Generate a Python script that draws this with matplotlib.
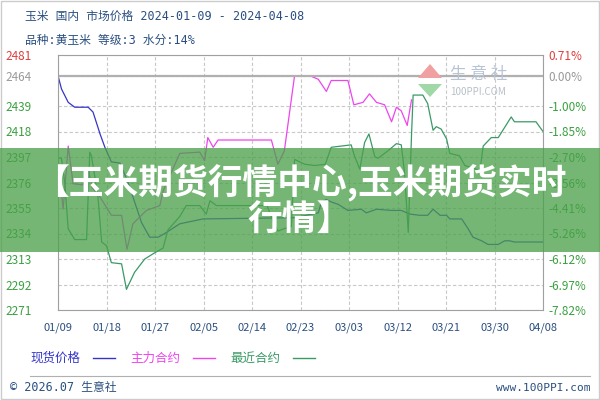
import matplotlib
matplotlib.use("Agg")
import matplotlib.pyplot as plt
import matplotlib.dates as mdates
from matplotlib.patches import Rectangle, Polygon
import pandas as pd

plt.rcParams['font.family'] = ['Noto Sans CJK SC', 'DejaVu Sans']

START = pd.Timestamp('2024-01-09')

# 现货价格 (spot price), days after 01/09
spot_days = [0, 0.65, 1.9, 3.1, 5.6, 6.5, 7.8, 8.7, 9.9, 11.5,
             13, 15.5, 17, 18.6, 19.8, 22.6, 26.9, 43.9, 48.3, 48.9,
             49.8, 50.7, 52, 53.8, 56.3, 57.2, 59.1, 61.9, 63.7, 65.3,
             67.1, 68.6, 69.6, 70.9, 72.1, 72.7, 74.9, 76.1, 77, 78.6,
             79.8, 81.7, 82.9, 83.8, 84.7, 90]
spot = [2464, 2453, 2442, 2438, 2438, 2434, 2416, 2405, 2393, 2392,
        2376, 2343, 2331, 2331, 2334, 2342, 2346, 2347, 2351, 2360,
        2362, 2360, 2358, 2353, 2354, 2351, 2354, 2353, 2353, 2350,
        2349, 2349, 2354, 2349, 2349, 2346, 2346, 2338, 2331, 2328,
        2325, 2325, 2328, 2328, 2327, 2327]

# 主力合约 (main contract)
main_days = [0, 0.95, 1.9, 2.8, 4.7, 5.6, 6.3, 7.8, 9.9, 11.8,
             12.8, 13.9, 16.4, 18.9, 19.5, 22.6, 26.3, 27.2, 27.8, 28.8,
             29.7, 39.6, 40.8, 42, 43.9, 46.7, 48.3, 49.8, 50.7, 53.8,
             54.9, 56.6, 57.8, 59.1, 60.6, 61.9, 62.8, 63.7, 64.8, 65.6]
main = [2396, 2354, 2406, 2375, 2374, 2388, 2372, 2364, 2349, 2349,
        2321, 2342, 2353, 2357, 2369, 2400, 2401, 2394, 2413, 2405,
        2411, 2411, 2391, 2402, 2464, 2464, 2461, 2451, 2460, 2460,
        2440, 2442, 2449, 2442, 2440, 2426, 2438, 2435, 2423, 2444]

# 最近合约 (nearest contract)
near_days = [0, 0.64, 1.26, 1.88, 3.1, 5.3, 5.9, 6.2, 7.4, 8.1,
             9.0, 9.9, 11.8, 12.7, 14.2, 16.1, 17.9, 19.5, 20.4, 22.6,
             23.8, 26.3, 27.5, 28.2, 29.4, 38.8, 40, 40.8, 42, 43.3,
             43.9, 45.8, 47.7, 49.6, 50.7, 54.4, 55, 56, 56.9, 57.7,
             58.8, 59.4, 61.2, 62.8, 63.7, 64.3, 65, 65.6, 65.9, 67.7,
             68.6, 69.6, 70.2, 71.1, 72.1, 72.7, 74.5, 75.5, 78.3, 78.9,
             80.4, 81.7, 84.1, 84.7, 88.7, 90]
near = [2396, 2396, 2376, 2338, 2329, 2329, 2401, 2398, 2365, 2327,
        2324, 2310, 2309, 2288, 2302, 2313, 2318, 2322, 2337, 2348,
        2357, 2357, 2350, 2361, 2357, 2357, 2343, 2336, 2338, 2340,
        2395, 2391, 2390, 2391, 2405, 2407, 2398, 2387, 2409, 2416,
        2397, 2396, 2402, 2408, 2407, 2384, 2335, 2415, 2448, 2448,
        2441, 2419, 2422, 2420, 2412, 2400, 2398, 2390, 2386, 2406,
        2413, 2413, 2430, 2426, 2426, 2418]

y_ticks = [2481, 2464, 2439, 2418, 2397, 2376, 2355, 2334, 2313, 2292, 2271]
pct_labels = ['0.71%', '0.00%', '-1.00%', '-1.85%', '-2.70%', '-3.56%',
              '-4.41%', '-5.26%', '-6.12%', '-6.97%', '-7.82%']
base_price = 2464

BLUE = '#3535c8'
MAGENTA = '#ee44ee'
GREEN = '#3a9a66'
NAVY = '#2a4f80'
MONO = ['DejaVu Sans Mono', 'Noto Sans CJK SC']


def to_dates(days):
    return START + pd.to_timedelta(days, unit='D')


def tick_color(v):
    if v > base_price:
        return '#e03c3c'
    if v == base_price:
        return '#999999'
    return '#3aa040'


fig = plt.figure(figsize=(6, 4), dpi=100)
fig.add_artist(Rectangle((0.002, 0.002), 0.996, 0.996, transform=fig.transFigure,
                         fill=False, edgecolor='#cccccc', lw=1))

ax = fig.add_axes([58 / 600, 1 - 310 / 400, 485 / 600, 255 / 400])
ax.plot(to_dates(spot_days), spot, color=BLUE, lw=0.9)
ax.plot(to_dates(main_days), main, color=MAGENTA, lw=0.9)
ax.plot(to_dates(near_days), near, color=GREEN, lw=0.9)

ax.set_ylim(y_ticks[-1], y_ticks[0])
ax.set_xlim(START, START + pd.Timedelta(days=90))
ax.set_yticks(y_ticks)
ax.set_xticks(pd.date_range(START, periods=11, freq='9D'))
ax.xaxis.set_major_formatter(mdates.DateFormatter('%m/%d'))
ax.grid(True, color='#c8c8c8', ls=(0, (3, 2)), lw=0.8)
ax.axhline(base_price, color='#b0b0b0', lw=1.6)
for s in ax.spines.values():
    s.set_color('#a0a0a0')

ax.tick_params(axis='x', length=0, pad=9, labelsize=8, labelcolor=NAVY)
ax.tick_params(axis='y', length=0, pad=38, labelsize=8.5)
for lab, v in zip(ax.get_yticklabels(), y_ticks):
    lab.set_ha('left')
    lab.set_color(tick_color(v))

ax2 = ax.twinx()
ax2.set_ylim(ax.get_ylim())
ax2.set_yticks(y_ticks)
ax2.set_yticklabels(pct_labels)
ax2.tick_params(axis='y', length=0, pad=4, labelsize=8.5)
for lab, v in zip(ax2.get_yticklabels(), y_ticks):
    lab.set_color(tick_color(v))
for s in ax2.spines.values():
    s.set_visible(False)

# header
fig.text(25 / 600, 1 - 16 / 400, '玉米 国内 市场价格 2024-01-09 - 2024-04-08',
         fontsize=8.5, color=NAVY, va='center', family=MONO)
fig.text(25 / 600, 1 - 40 / 400, '品种:黄玉米 等级:3 水分:14%',
         fontsize=8.5, color=NAVY, va='center', family=MONO)

# watermark
fig.add_artist(Polygon([[418 / 600, 1 - 78 / 400], [430 / 600, 1 - 64 / 400], [442 / 600, 1 - 78 / 400]],
                       closed=True, transform=fig.transFigure, color='#f0a0a0', lw=0))
fig.add_artist(Polygon([[418 / 600, 1 - 84 / 400], [430 / 600, 1 - 97 / 400], [442 / 600, 1 - 84 / 400]],
                       closed=True, transform=fig.transFigure, color='#a0d8a8', lw=0))
fig.text(450 / 600, 1 - 74 / 400, '生 意 社', fontsize=12, color='#b8c4d4', va='center')
fig.text(450 / 600, 1 - 92 / 400, '100PPI.COM', fontsize=7, color='#b8c0c8', va='center')

# legend row
legend_items = [('现货价格', BLUE, 30), ('主力合约', MAGENTA, 130), ('最近合约', GREEN, 230)]
for name, c, x0 in legend_items:
    fig.text(x0 / 600, 1 - 358 / 400, name, fontsize=9, color=c, va='center')
    fig.add_artist(plt.Line2D([(x0 + 63) / 600, (x0 + 85) / 600], [1 - 358 / 400, 1 - 358 / 400],
                              transform=fig.transFigure, color=c, lw=1))

fig.add_artist(plt.Line2D([30 / 600, 590 / 600], [1 - 376 / 400, 1 - 376 / 400],
                          transform=fig.transFigure, color='#b0b0b0', lw=0.8))
fig.text(10 / 600, 1 - 388 / 400, '© 2026.07 生意社', fontsize=8.5, color=NAVY, va='center', family=MONO)
fig.text(590 / 600, 1 - 388 / 400, 'www.100PPI.com', fontsize=8, color=NAVY, va='center', ha='right',
         family=MONO)

# green title banner
fig.add_artist(Rectangle((0, 1 - 252 / 400), 1, 104 / 400, transform=fig.transFigure,
                         color='#4aa04a', alpha=0.76, lw=0, zorder=10))
fig.text(0.5, 1 - 182 / 400, '【玉米期货行情中心,玉米期货实时', fontsize=25, fontweight='bold',
         color='white', ha='center', va='center', zorder=11)
fig.text(0.5, 1 - 220 / 400, '行情】', fontsize=25, fontweight='bold',
         color='white', ha='center', va='center', zorder=11)

fig.savefig('out.png', dpi=100)
